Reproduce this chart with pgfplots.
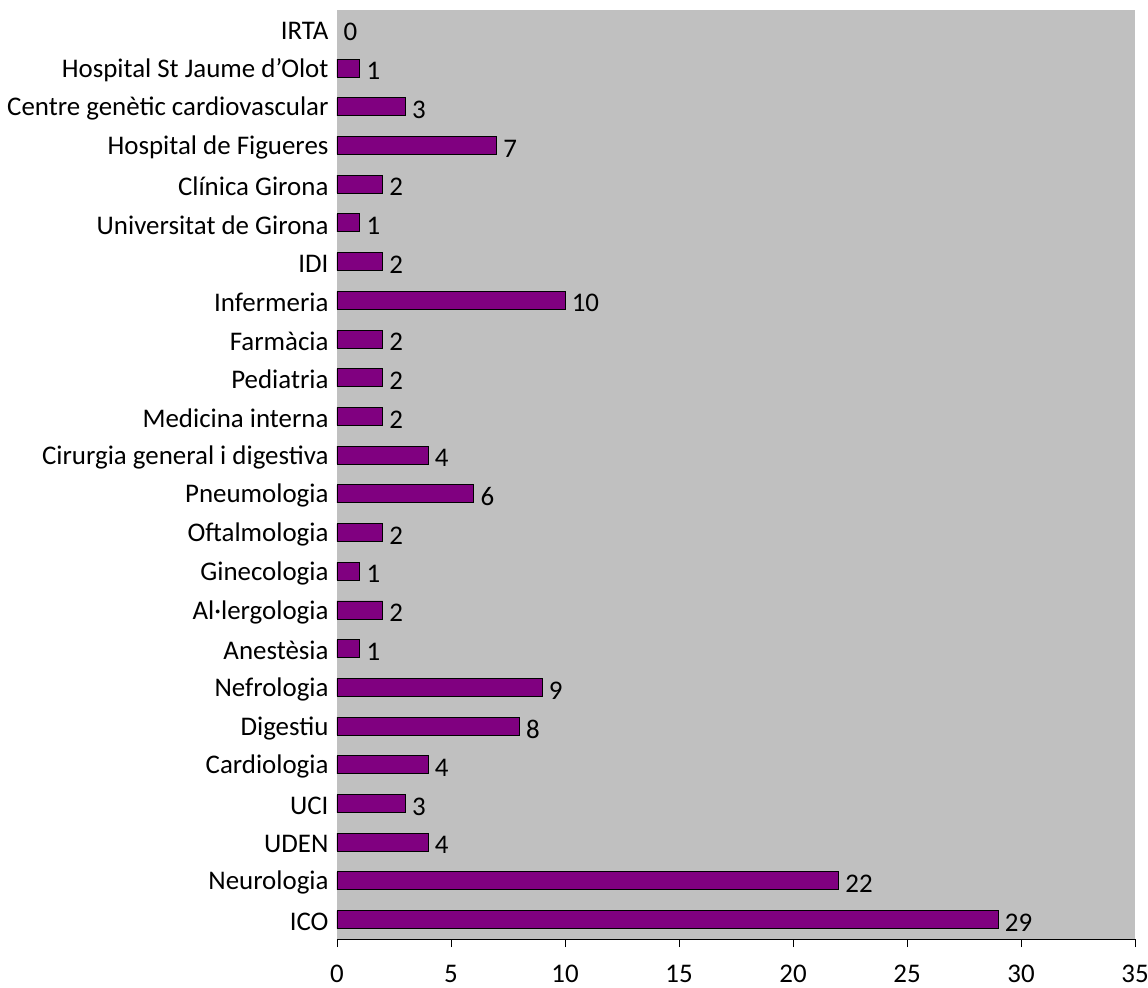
\documentclass[border=0pt]{standalone}
\usepackage{fontspec}
\setmainfont{Carlito}
\usepackage{pgfplots}
\pgfplotsset{compat=1.18}
\definecolor{bgray}{RGB}{192,192,192}
\definecolor{barpurple}{RGB}{128,0,128}

\begin{document}
\begin{tikzpicture}
  \begin{axis}[
    name=ax,
    scale only axis,
    width=798bp,
    height=929bp,
    xbar,
    bar width=18bp,
    bar shift=0pt,
    xmin=0, xmax=35,
    xtick distance=5,
    ymin=-0.5, ymax=23.5,
    ytick={0,...,23},
    yticklabels={ICO, Neurologia, UDEN, {UCI\ }, Cardiologia, Digestiu,
      Nefrologia, Anestèsia, Al·lergologia, Ginecologia, Oftalmologia,
      Pneumologia, Cirurgia general i digestiva, Medicina interna,
      Pediatria, Farmàcia, Infermeria, IDI, Universitat de Girona,
      Clínica Girona, {Hospital de Figueres\ }, Centre genètic cardiovascular,
      Hospital St Jaume d’Olot, IRTA},
    axis background/.style={fill=bgray},
    axis x line*=bottom,
    axis y line*=left,
    y axis line style={draw=none},
    ytick style={draw=none},
    xtick align=outside,
    xtick style={black, line width=0.8pt},
    major tick length=8bp,
    x axis line style={black, line width=0.8pt},
    tick label style={font=\fontsize{27}{31}\selectfont},
    xticklabel style={yshift=-15bp},
    yticklabel style={xshift=3bp, yshift=-2bp},
    /pgf/number format/assume math mode=true,
    nodes near coords,
    nodes near coords style={anchor=west, xshift=3bp, yshift=-3bp,
      font=\fontsize{27}{31}\selectfont},
  ]
  \addplot[fill=barpurple, draw=black, line width=0.9pt] coordinates {
    (29,0) (22,1) (4,2) (3,3) (4,4) (8,5) (9,6) (1,7) (2,8) (1,9)
    (2,10) (6,11) (4,12) (2,13) (2,14) (2,15) (10,16) (2,17) (1,18)
    (2,19) (7,20) (3,21) (1,22)
  };
  \addplot[fill=none, draw=none] coordinates {(0,23)};
  \end{axis}
  \pgfresetboundingbox
  \path (ax.south west) ++(-337bp,-49bp) rectangle ([xshift=811bp,yshift=939bp]ax.south west);
\end{tikzpicture}
\end{document}
